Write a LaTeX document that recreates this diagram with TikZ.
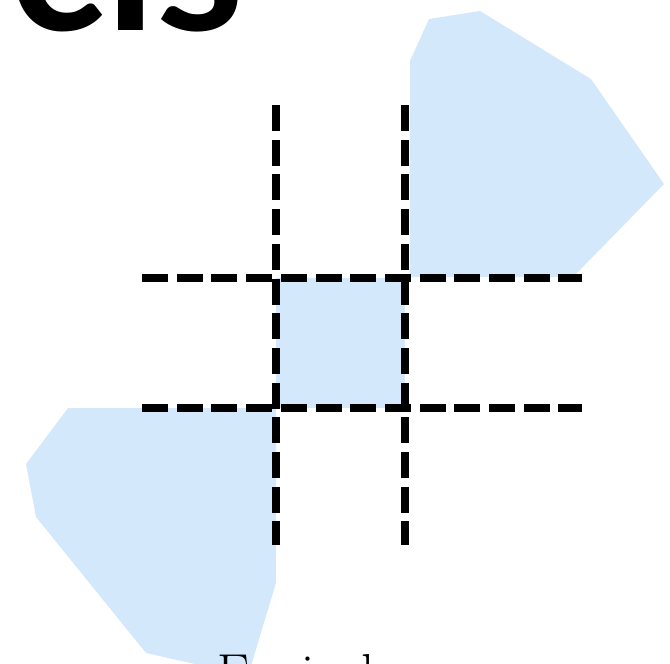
\documentclass[tikz,border=0pt]{standalone}
\usepackage{fontspec}
\newfontfamily\headfont{Lato}
\definecolor{regionblue}{RGB}{212,232,252}
\begin{document}
\begin{tikzpicture}[x=1pt, y=-1pt,
  region/.style={fill=regionblue},
  gridline/.style={line width=8pt, dash pattern=on 26pt off 8.7pt}
]
\useasboundingbox (0,0) rectangle (670,664);
\clip (0,0) rectangle (670,664);
% shaded regions
\fill[region] (410,61) -- (429,19) -- (480,11) -- (591,79) -- (664,184) -- (573,277) -- (410,277) -- cycle;
\fill[region] (68,408) -- (276,408) -- (276,583) -- (248,676) -- (146,653) -- (36,517) -- (26,464) -- cycle;
\fill[region] (276,278) rectangle (405,408);
% dashed grid
\foreach \x in {276,405} \draw[gridline] (\x,105) -- (\x,545);
\foreach \y in {278,408} \draw[gridline] (142,\y) -- (582,\y);
% texts
\node[anchor=base west, inner sep=0pt, font=\headfont\bfseries\fontsize{200}{200}\selectfont] (title) at (9,30) {cis};
\node[anchor=base, inner sep=0pt, font=\fontsize{52}{52}\selectfont] (caption) at (340.5,690) {Equivalence};
\end{tikzpicture}
\end{document}
